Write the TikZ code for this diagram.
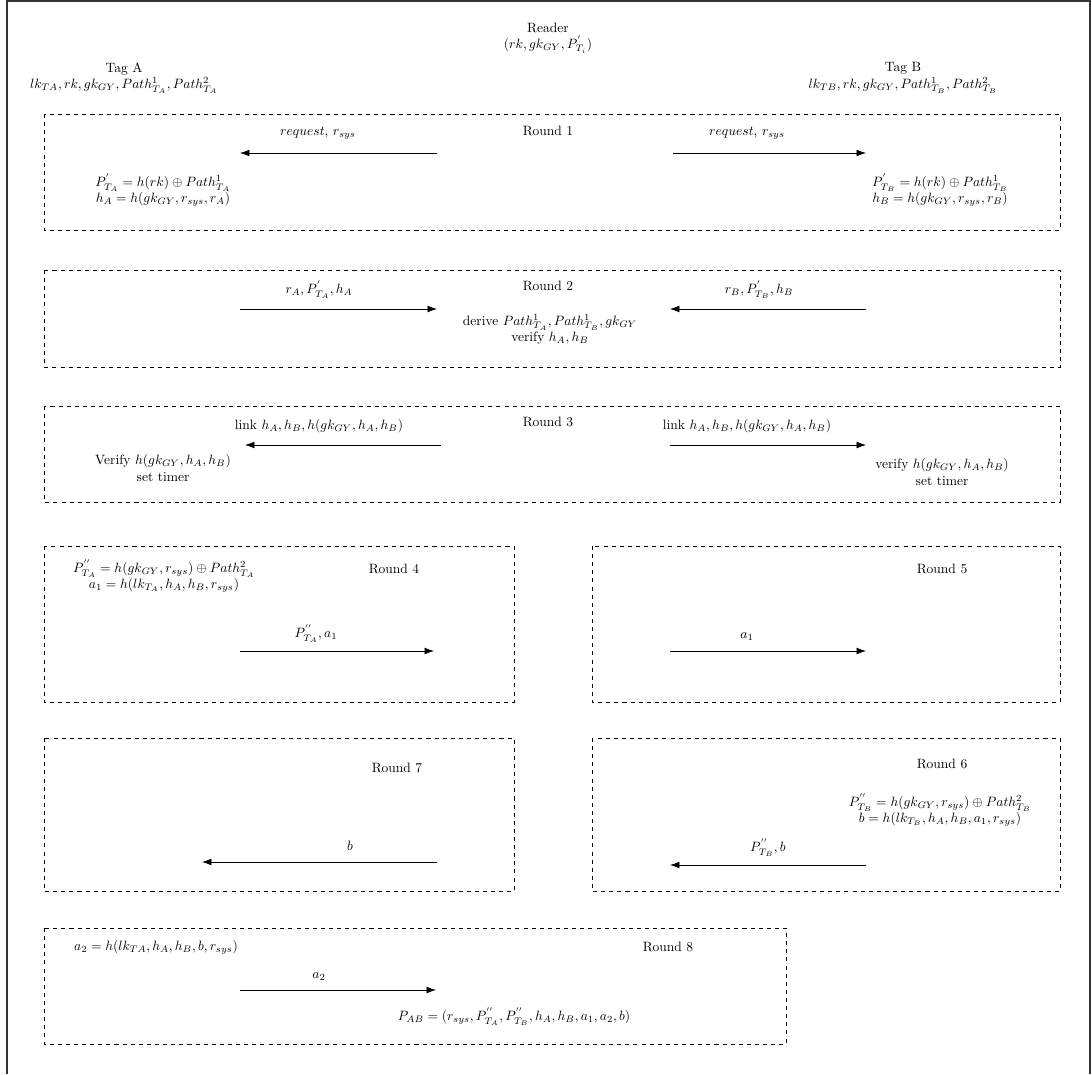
\documentclass[tikz,border=0pt]{standalone}
\usepackage{tikz}
\usetikzlibrary{arrows.meta}

\begin{document}
\begin{tikzpicture}[x=0.74pt, y=-0.74pt,
        msg/.style={-{Latex[length=7pt,width=5pt]}, line width=0.5pt},
        rbox/.style={draw, dashed},
        nodes={align=center, inner sep=1pt}]
    \useasboundingbox (0,0) rectangle (1092,1074);
    \draw[line width=1.2pt, black!80] (7,1074) -- (7,1) -- (1090,1) -- (1090,1074);

    % parties
    \node (reader) at (548,38) {Reader\\$(rk,gk_{GY},P^{'}_{T_i})$};
    \node (tagA) at (124,78) {Tag A\\$lk_{TA},rk,gk_{GY},Path^1_{T_A},Path^2_{T_A}$};
    \node (tagB) at (903,78) {Tag B\\$lk_{TB},rk,gk_{GY},Path^1_{T_B},Path^2_{T_B}$};

    % round 1
    \draw[rbox] (44,114) rectangle (1060,230);
    \node (round1) at (548,131) {Round 1};
    \coordinate (r1ra) at (437,153);
    \coordinate (r1ta) at (240,153);
    \coordinate (r1rb) at (673,153);
    \coordinate (r1tb) at (866,153);
    \draw[msg] (r1ra) -- (r1ta);
    \draw[msg] (r1rb) -- (r1tb);
    \node (req1a) at (318,133) {$request$, $r_{sys}$};
    \node (req1b) at (747,133) {$request$, $r_{sys}$};
    \node (calc1a) at (163,190) {$P^{'}_{T_A}=h(rk)\oplus Path^1_{T_A}$\\$h_A=h(gk_{GY},r_{sys},r_A)$};
    \node (calc1b) at (940,190) {$P^{'}_{T_B}=h(rk)\oplus Path^1_{T_B}$\\$h_B=h(gk_{GY},r_{sys},r_B)$};

    % round 2
    \draw[rbox] (44,270) rectangle (1060,367);
    \node (round2) at (548,286) {Round 2};
    \coordinate (r2ta) at (240,309);
    \coordinate (r2ra) at (437,309);
    \coordinate (r2tb) at (866,309);
    \coordinate (r2rb) at (670,309);
    \draw[msg] (r2ta) -- (r2ra);
    \draw[msg] (r2tb) -- (r2rb);
    \node (msg2a) at (319,290) {$r_A,P^{'}_{T_A},h_A$};
    \node (msg2b) at (759,290) {$r_B,P^{'}_{T_B},h_B$};
    \node (calc2) at (550,329) {derive $Path^1_{T_A},Path^1_{T_B},gk_{GY}$\\verify $h_A,h_B$};

    % round 3
    \draw[rbox] (44,406) rectangle (1060,502);
    \node (round3) at (548,422) {Round 3};
    \coordinate (r3ra) at (441,445);
    \coordinate (r3ta) at (245,445);
    \coordinate (r3rb) at (670,445);
    \coordinate (r3tb) at (866,445);
    \draw[msg] (r3ra) -- (r3ta);
    \draw[msg] (r3rb) -- (r3tb);
    \node (link3a) at (319,426) {link $h_A,h_B,h(gk_{GY},h_A,h_B)$};
    \node (link3b) at (747,426) {link $h_A,h_B,h(gk_{GY},h_A,h_B)$};
    \node (chk3a) at (163,468) {Verify $h(gk_{GY},h_A,h_B)$\\set timer};
    \node (chk3b) at (942,472) {verify $h(gk_{GY},h_A,h_B)$\\set timer};

    % round 4
    \draw[rbox] (44,546) rectangle (514,702);
    \node (round4) at (394,569) {Round 4};
    \node (calc4) at (164,576) {$P^{''}_{T_A}=h(gk_{GY},r_{sys})\oplus Path^2_{T_A}$\\$a_1=h(lk_{T_A},h_A,h_B,r_{sys})$};
    \coordinate (r4ta) at (240,651);
    \coordinate (r4ra) at (434,651);
    \draw[msg] (r4ta) -- (r4ra);
    \node (msg4) at (316,634) {$P^{''}_{T_A},a_1$};

    % round 5
    \draw[rbox] (592,546) rectangle (1060,702);
    \node (round5) at (942,569) {Round 5};
    \coordinate (r5ra) at (670,651);
    \coordinate (r5tb) at (866,651);
    \draw[msg] (r5ra) -- (r5tb);
    \node (msg5) at (747,637) {$a_1$};

    % round 7
    \draw[rbox] (44,738) rectangle (514,891);
    \node (round7) at (397,768) {Round 7};
    \coordinate (r7ra) at (437,862);
    \coordinate (r7ta) at (202,862);
    \draw[msg] (r7ra) -- (r7ta);
    \node (msg7) at (350,846) {$b$};

    % round 6
    \draw[rbox] (592,738) rectangle (1060,891);
    \node (round6) at (942,764) {Round 6};
    \node (calc6) at (940,810) {$P^{''}_{T_B}=h(gk_{GY},r_{sys})\oplus Path^2_{T_B}$\\$b=h(lk_{T_B},h_A,h_B,a_1,r_{sys})$};
    \coordinate (r6tb) at (866,865);
    \coordinate (r6ra) at (670,865);
    \draw[msg] (r6tb) -- (r6ra);
    \node (msg6) at (768,848) {$P^{''}_{T_B},b$};

    % round 8
    \draw[rbox] (44,928) rectangle (786,1044);
    \node (round8) at (668,947) {Round 8};
    \node (calc8) at (156,947) {$a_2=h(lk_{TA},h_A,h_B,b,r_{sys})$};
    \coordinate (r8ta) at (240,990);
    \coordinate (r8ra) at (436,990);
    \draw[msg] (r8ta) -- (r8ra);
    \node (msg8) at (319,977) {$a_2$};
    \node (pab) at (514,1017) {$P_{AB}=(r_{sys},P^{''}_{T_A},P^{''}_{T_B},h_A,h_B,a_1,a_2,b)$};
\end{tikzpicture}
\end{document}
